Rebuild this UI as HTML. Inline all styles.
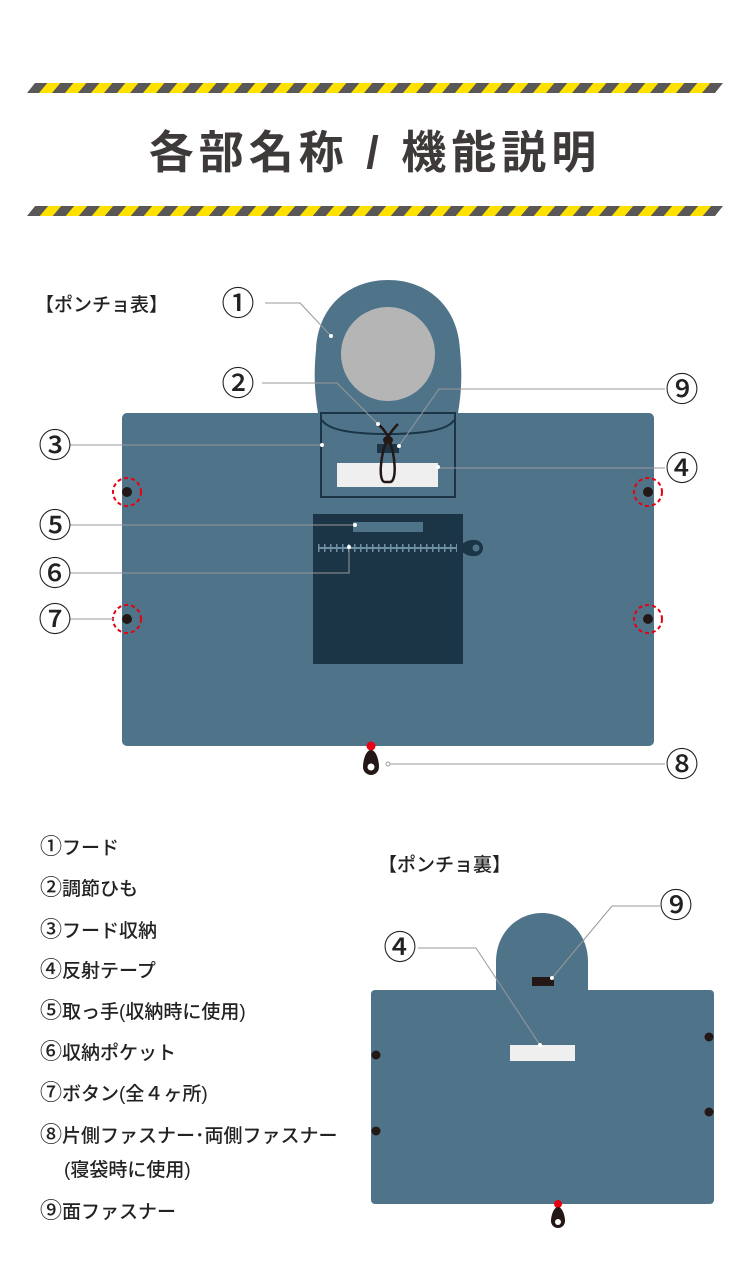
<!DOCTYPE html>
<html><head><meta charset="utf-8"><style>
html,body{margin:0;padding:0;background:#fff}
svg{display:block}
text{font-family:"Liberation Sans","Noto Sans CJK JP",sans-serif;fill:#222}
</style></head><body>
<svg width="750" height="1268" viewBox="0 0 750 1268" xmlns="http://www.w3.org/2000/svg">
<defs>
<pattern id="st" width="26" height="20" patternUnits="userSpaceOnUse" patternTransform="skewX(-40)">
<rect width="26" height="20" fill="#595757"/><rect x="13" width="13" height="20" fill="#ffe100"/>
</pattern>
</defs>
<polygon points="35,83 723,83 715,93 27,93" fill="url(#st)"/>
<polygon points="35,206 723,206 715,216 27,216" fill="url(#st)"/>
<text x="375" y="168" text-anchor="middle" font-size="45" font-weight="bold" style="fill:#3e3a39" letter-spacing="5">各部名称 / 機能説明</text>

<text x="35" y="311" font-size="19" font-weight="500">【ポンチョ表】</text>

<!-- front hood -->
<path d="M318,413 C314,390 314,370 316,350 C318,305 350,280 388,280 C426,280 458,305 460,350 C462,370 462,390 458,413 Z" fill="#4f7489"/>
<circle cx="388" cy="354" r="47" fill="#b5b5b6"/>
<rect x="122" y="413" width="532" height="333" rx="5" fill="#4f7489"/>
<rect x="321" y="413" width="134" height="84" fill="none" stroke="#1b3547" stroke-width="2"/>
<path d="M322,420 Q330,434 388,434 Q446,434 454,420" fill="none" stroke="#1b3547" stroke-width="2"/>
<rect x="337" y="463" width="101" height="24" fill="#efefef"/>
<rect x="377" y="444" width="22" height="9" fill="#1b3547"/>
<path d="M378,424 Q385,430 388,437 Q392,430 398,424" fill="none" stroke="#231815" stroke-width="2.5"/>
<path d="M388,437 C380,455 378,482 385,482 L390,482 C397,482 396,455 388,437" fill="none" stroke="#231815" stroke-width="2.5"/>
<ellipse cx="388" cy="440" rx="5" ry="4" fill="#231815"/>
<rect x="313" y="514" width="150" height="150" fill="#1b3547"/>
<rect x="353" y="522" width="70" height="10" fill="#4f7489"/>
<line x1="318" y1="548" x2="457" y2="548" stroke="#6f8fa3" stroke-width="2"/>
<line x1="318" y1="548" x2="457" y2="548" stroke="#6f8fa3" stroke-width="8" stroke-dasharray="1.5 4.5"/>
<path d="M458,548 Q466,539 475,540 A8,8 0 0 1 475,556 Q466,557 458,548 Z" fill="#1b3547"/>
<circle cx="476" cy="548" r="3.5" fill="#4f7489"/>
<g fill="#231815"><circle cx="127" cy="492" r="5"/><circle cx="648" cy="492" r="5"/><circle cx="127" cy="619" r="5"/><circle cx="648" cy="619" r="5"/></g>
<g fill="none" stroke="#e60012" stroke-width="2" stroke-dasharray="4 3"><circle cx="127" cy="492" r="14"/><circle cx="648" cy="492" r="14"/><circle cx="127" cy="619" r="14"/><circle cx="648" cy="619" r="14"/></g>
<circle cx="371" cy="746" r="4.5" fill="#e60012"/>
<path d="M371,750 C366,750 363,760 363,767 A8,8 0 0 0 379,767 C379,760 376,750 371,750 Z" fill="#231815"/>
<circle cx="371" cy="767" r="3.5" fill="#fff"/>

<g stroke="#999" stroke-width="1" fill="none">
<polyline points="265,303 300,303 331,336"/>
<polyline points="262,383 337,383 378,424"/>
<polyline points="70,445 322,445"/>
<polyline points="665,389 439,389 399,446"/>
<polyline points="665,468 438,468"/>
<polyline points="70,525 355,525"/>
<polyline points="70,573 349,573 349,547"/>
<polyline points="70,619 116,619"/>
<polyline points="388,764 665,764"/>
</g>
<g fill="#fff"><circle cx="331" cy="336" r="2"/><circle cx="378" cy="424" r="2"/><circle cx="322" cy="445" r="2"/><circle cx="399" cy="446" r="2"/><circle cx="438" cy="467" r="2"/><circle cx="355" cy="525" r="2"/><circle cx="349" cy="547" r="2"/><circle cx="116" cy="619" r="2"/></g>
<circle cx="388" cy="764" r="2" fill="#fff" stroke="#999"/>

<g font-size="33" text-anchor="middle" font-weight="500">
<text x="238" y="315">①</text><text x="238" y="395">②</text><text x="55" y="457">③</text>
<text x="682" y="401">⑨</text><text x="682" y="480">④</text><text x="55" y="537">⑤</text>
<text x="55" y="585">⑥</text><text x="55" y="631">⑦</text><text x="682" y="776">⑧</text>
<text x="676" y="917">⑨</text><text x="400" y="959">④</text>
</g>

<g font-size="19" font-weight="500">
<text x="40" y="854"><tspan font-size="22">①</tspan>フード</text>
<text x="40" y="895"><tspan font-size="22">②</tspan>調節ひも</text>
<text x="40" y="937"><tspan font-size="22">③</tspan>フード収納</text>
<text x="40" y="977"><tspan font-size="22">④</tspan>反射テープ</text>
<text x="40" y="1018"><tspan font-size="22">⑤</tspan>取っ手(収納時に使用)</text>
<text x="40" y="1059"><tspan font-size="22">⑥</tspan>収納ポケット</text>
<text x="40" y="1100"><tspan font-size="22">⑦</tspan>ボタン(全４ヶ所)</text>
<text x="40" y="1142"><tspan font-size="22">⑧</tspan>片側ファスナー･両側ファスナー</text>
<text x="64" y="1176">(寝袋時に使用)</text>
<text x="40" y="1218"><tspan font-size="22">⑨</tspan>面ファスナー</text>
<text x="378" y="871">【ポンチョ裏】</text>
</g>

<path d="M496,990 L496,962 C496,932 518,913 542,913 C566,913 588,932 588,962 L588,990 Z" fill="#4f7489"/>
<rect x="371" y="990" width="343" height="214" rx="4" fill="#4f7489"/>
<rect x="532" y="977" width="22" height="9" fill="#231815"/>
<rect x="510" y="1045" width="65" height="16" fill="#efefef"/>
<g fill="#231815"><circle cx="376" cy="1055" r="4.5"/><circle cx="376" cy="1131" r="4.5"/><circle cx="709" cy="1037" r="4.5"/><circle cx="709" cy="1112" r="4.5"/></g>
<circle cx="558" cy="1204" r="4" fill="#e60012"/>
<path d="M558,1207 C554,1207 551,1215 551,1221 A7,7 0 0 0 565,1221 C565,1215 562,1207 558,1207 Z" fill="#231815"/>
<circle cx="558" cy="1222" r="3" fill="#fff"/>
<g stroke="#999" stroke-width="1" fill="none">
<polyline points="660,906 612,906 552,978"/>
<polyline points="418,948 476,948 540,1045"/>
</g>
<circle cx="552" cy="978" r="2" fill="#fff"/><circle cx="540" cy="1045" r="2" fill="#fff"/>
</svg>
</body></html>
